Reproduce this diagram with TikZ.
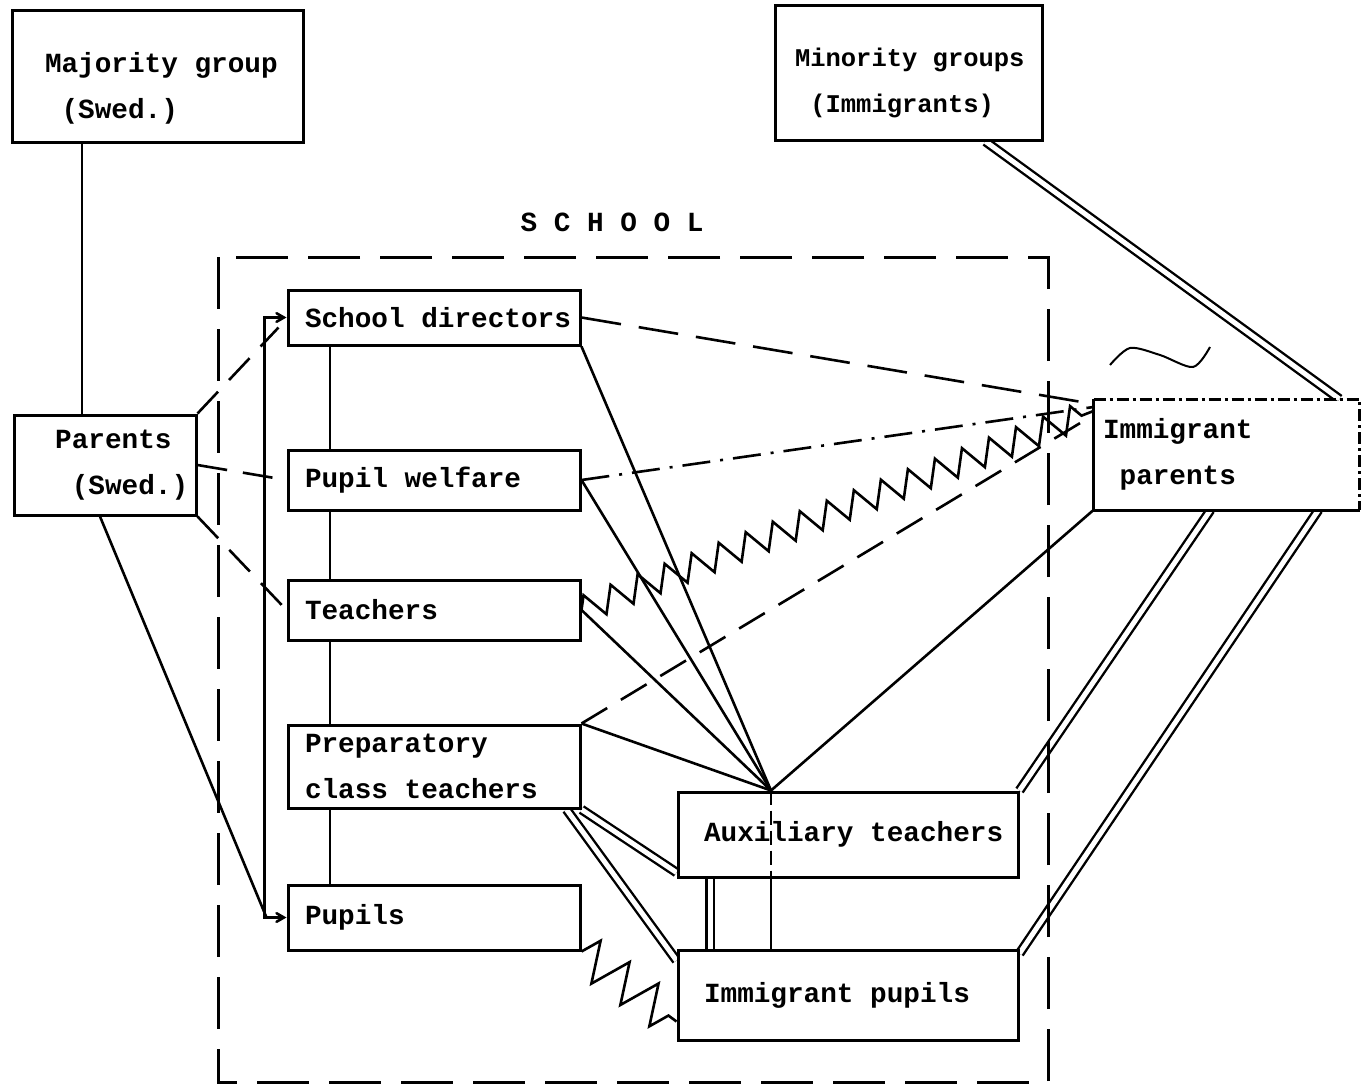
\documentclass[tikz,border=0pt]{standalone}
\usepackage{fontspec}
\newfontfamily\typewriter{Liberation Mono}[WordSpace={1,0,0}]
\usepackage{tikz}
\usetikzlibrary{arrows}
\tikzset{>=angle 60}
\usetikzlibrary{backgrounds}
\usetikzlibrary{decorations.pathmorphing}
\colorlet{penColor}{black}
\newcommand\nohyph{\hyphenpenalty10000\relax}
\tikzset{
  box/.style={draw=penColor,line width=3pt,fill=white,inner ysep=0pt,align=flush left,
    font=\typewriter\bfseries\fontsize{27.7}{46}\selectfont\nohyph},
  inbox/.style={box,minimum width=292pt,text width=258pt,inner xsep=17pt},
  pupbox/.style={box,minimum width=340pt,text width=288pt,inner xsep=26pt},
  headtext/.style={font=\typewriter\bfseries\fontsize{27.7}{46}\selectfont},
  solidline/.style={penColor,line width=2.6pt},
  dblline/.style={penColor,line width=2.4pt,double,double distance=5pt},
  dashlong/.style={penColor,line width=2.6pt,dash pattern=on 40pt off 18pt},
  dashshort/.style={penColor,line width=2.6pt,dash pattern=on 30pt off 16pt},
  dashdotline/.style={penColor,line width=2.6pt,dash pattern=on 28pt off 10pt on 3pt off 10pt},
  zigline/.style={penColor,line width=2.6pt,decorate,decoration={zigzag,segment length=29pt,amplitude=13pt}},
  schoolline/.style={penColor,line width=3pt,dash pattern=on 52pt off 20pt}
}

\begin{document}
\begin{tikzpicture}[x=1pt,y=-1pt]
\useasboundingbox (0,0) rectangle (1367,1087);

\node[box,minimum width=291pt,minimum height=132pt,text width=225pt,inner xsep=33pt] (maj) at (157.5,76)
  {\rule{0pt}{44pt}Majority~group\\\phantom{x}(Swed.)};
\node[box,minimum width=267pt,minimum height=135pt,text width=227pt,inner xsep=20pt,
  font=\typewriter\bfseries\fontsize{25.5}{46}\selectfont\nohyph] (mino) at (908.5,72.5)
  {\rule{0pt}{40pt}Minority~groups\\\phantom{x}(Immigrants)};

\draw[schoolline] (218,257) rectangle (1048,1082);
\node[headtext] (schoollbl) at (612,222) {S C H O O L};

\node[box,minimum width=182pt,minimum height=100pt,text width=166pt,inner xsep=8pt] (par) at (105,465)
  {\phantom{xx}Parents\\\phantom{xxx}(Swed.)};

\node[inbox,minimum height=55pt] (sd) at (434,317.5) {School~directors};
\node[inbox,minimum height=60pt] (pw) at (434,480) {Pupil~welfare};
\node[inbox,minimum height=60pt] (tea) at (434,610) {Teachers};
\node[inbox,minimum height=83pt] (pct) at (434,766.5) {Preparatory\\class~teachers};
\node[inbox,minimum height=65pt] (pup) at (434,917.5) {Pupils};

\node[pupbox,minimum height=85pt] (aux) at (848,834.5) {Auxiliary~teachers};
\node[pupbox,minimum height=90pt] (ipu) at (848,995) {Immigrant~pupils};

\node[box,draw=none,minimum width=263pt,minimum height=108pt,text width=247pt,inner xsep=8pt] (ipa) at (1226.5,454.5)
  {Immigrant\\\phantom{x}parents};
\draw[solidline,line width=3pt] (ipa.north west) -- (ipa.south west) -- (ipa.south east);
\draw[dashdotline,line width=3pt,dash pattern=on 12pt off 4pt on 3pt off 4pt] (ipa.north west) -- (ipa.north east) -- (ipa.south east);

\coordinate (apex) at ([xshift=-77pt]aux.north);

\begin{scope}[on background layer]
  \draw[solidline] ([xshift=-75.5pt]maj.south) -- ([xshift=-23pt]par.north);
  \draw[dblline] ([xshift=77pt]mino.south) -- ([xshift=-20pt]ipa.north east);

  \draw[solidline,<->] (sd.west) -- ++(-22,0) |- (pup.west);
  \draw[solidline] ([xshift=-104pt]sd.south) -- ([xshift=-104pt]pup.north);

  \draw[dashshort] (par.north east) -- ([xshift=-8pt,yshift=-10pt]sd.west);
  \draw[dashshort] (par.east) -- (pw.west);
  \draw[dashshort] (par.south east) -- (tea.west);
  \draw[solidline] ([xshift=-5pt]par.south) -- ([xshift=-20pt]pup.west);

  \draw[dashlong] (sd.east) -- ([yshift=-5pt]ipa.north west);
  \draw[dashdotline] (pw.east) -- ([yshift=-8pt]ipa.north west);
  \draw[zigline] (tea.east) -- ([yshift=-12pt]ipa.north west);
  \draw[dashshort] (pct.north east) -- ([yshift=-16pt]ipa.north west);

  \draw[solidline] (sd.south east) -- (apex);
  \draw[solidline] (pw.east) -- (apex);
  \draw[solidline] (tea.east) -- (apex);
  \draw[solidline] (pct.north east) -- (apex);
  \draw[solidline] (ipa.south west) -- (apex);
  \draw[solidline] (apex |- aux.south) -- (apex |- ipu.north);

  \draw[dblline] (pct.south east) -- ([yshift=6pt]aux.south west);
  \draw[dblline] ([xshift=-15pt]pct.south east) -- ([yshift=-12pt]ipu.north west);
  \draw[dblline] ([xshift=-138pt]aux.south) -- ([xshift=-138pt]ipu.north);
  \draw[zigline,decoration={segment length=36pt,amplitude=20pt}] (pup.south east) -- ([yshift=20pt]ipu.south west);

  \draw[dblline] ([xshift=-16pt]ipa.south) -- (aux.north east);
  \draw[dblline] ([xshift=92pt]ipa.south) -- ([yshift=-5pt]ipu.north east);
\end{scope}

\draw[penColor,line width=2.4pt,dash pattern=on 14pt off 6pt] (apex) -- (apex |- aux.south);
\draw[penColor,line width=2pt] plot[smooth] coordinates {(1110,365) (1130,348) (1160,355) (1193,367) (1210,347)};

\end{tikzpicture}
\end{document}
